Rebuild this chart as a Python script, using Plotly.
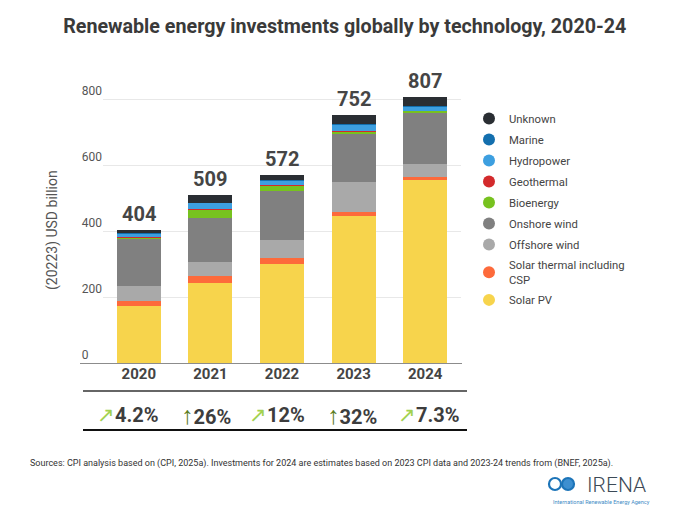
import plotly.graph_objects as go

years = ["2020", "2021", "2022", "2023", "2024"]

# USD billion (bottom to top)
solar_pv = [172, 243, 300, 448, 555]
solar_thermal = [15, 20, 20, 11, 10]
offshore_wind = [48, 45, 55, 91, 38]
onshore_wind = [142, 133, 146, 148, 157]
bioenergy = [5, 24, 17, 4, 6]
geothermal = [1, 1.5, 2, 4, 0.5]
hydropower = [10.5, 20, 14, 18, 14]
marine = [0.5, 0.5, 1, 1, 0.5]
unknown = [10, 22, 17, 27, 26]

totals = [404, 509, 572, 752, 807]
growth = ["4.2%", "26%", "12%", "32%", "7.3%"]
growth_arrow = ["↗", "↑", "↗", "↑", "↗"]
growth_shift = [-11, -4, -5, -2, 4]

series = [
    ("Solar PV", solar_pv, "#f7d44c"),
    ("Solar thermal including<br>CSP", solar_thermal, "#fd6a3b"),
    ("Offshore wind", offshore_wind, "#a9a9a9"),
    ("Onshore wind", onshore_wind, "#808080"),
    ("Bioenergy", bioenergy, "#77c21f"),
    ("Geothermal", geothermal, "#d32a2c"),
    ("Hydropower", hydropower, "#3d9fe0"),
    ("Marine", marine, "#136fae"),
    ("Unknown", unknown, "#2a2e33"),
]

W, H = 680, 519
ml, mr, mt, mb = 103, 219, 70, 156
pw, ph = W - ml - mr, H - mt - mb


def px_x(p):
    return (p - ml) / pw


def px_y(p):
    return (H - mb - p) / ph


fig = go.Figure()
for name, vals, col in series:
    fig.add_trace(go.Bar(x=years, y=vals, name=name, marker_color=col,
                         marker_line_width=0, showlegend=False,
                         hovertemplate=name + ": %{y}<extra></extra>"))

# legend entries with round markers, top to bottom
for name, vals, col in series[::-1]:
    fig.add_trace(go.Scatter(x=[years[0]], y=[None], mode="markers", name=name,
                             legendgroup=name,
                             marker=dict(symbol="circle", size=12, color=col)))

annotations = []
# totals above bars
for i, t in enumerate(totals):
    annotations.append(dict(x=i, xref="x", y=t, yref="y", yanchor="bottom", yshift=2,
                            text="<b>%d</b>" % t, showarrow=False,
                            font=dict(family="Roboto", size=20, color="#454545")))

# year-on-year growth row
for i, yr in enumerate(years):
    if growth_arrow[i] == "↑":
        acol, asz = "#5c7d1f", 25
    else:
        acol, asz = "#a3d24f", 21
    annotations.append(dict(
        x=i, xref="x", y=px_y(415), yref="paper", yanchor="middle",
        xshift=growth_shift[i],
        text="<span style='color:%s;font-size:%dpx;font-weight:300'>%s</span><b>%s</b>"
             % (acol, asz, growth_arrow[i], growth[i]),
        showarrow=False, font=dict(family="Roboto", size=20, color="#3d3d3d")))

annotations += [
    dict(text="(20223) USD billion", x=px_x(52), xref="paper", xanchor="center",
         y=px_y(230), yref="paper", yanchor="middle",
         showarrow=False, textangle=-90, font=dict(family="Roboto", size=14, color="#555555")),
    dict(text="Sources: CPI analysis based on (CPI, 2025a). Investments for 2024 are estimates "
              "based on 2023 CPI data and 2023-24 trends from (BNEF, 2025a).",
         x=px_x(28), xref="paper", xanchor="left", y=px_y(463), yref="paper", yanchor="middle",
         showarrow=False, font=dict(family="Roboto", size=9, color="#333333")),
    dict(text="IRENA", x=px_x(585), xref="paper", xanchor="left", y=px_y(485), yref="paper",
         yanchor="middle", showarrow=False,
         font=dict(family="Roboto", size=21, color="#3c4a56", weight=300)),
    dict(text="International Renewable Energy Agency", x=px_x(652), xref="paper", xanchor="right",
         y=px_y(502), yref="paper", yanchor="middle", showarrow=False,
         font=dict(family="Roboto", size=5.5, color="#3f8cc6")),
]

shapes = [
    dict(type="line", xref="paper", yref="paper", x0=px_x(80), x1=px_x(462),
         y0=px_y(363.5), y1=px_y(363.5), line=dict(color="#8c8c8c", width=1)),
    dict(type="line", xref="paper", yref="paper", x0=px_x(83), x1=px_x(467),
         y0=px_y(391), y1=px_y(391), line=dict(color="#333333", width=1.3)),
    dict(type="line", xref="paper", yref="paper", x0=px_x(83), x1=px_x(467),
         y0=px_y(430), y1=px_y(430), line=dict(color="#111111", width=2)),
    # IRENA globes
    dict(type="circle", xref="paper", yref="paper", x0=px_x(549), x1=px_x(561),
         y0=px_y(478), y1=px_y(490), line=dict(color="#1c74b8", width=2.2),
         fillcolor="rgba(0,0,0,0)"),
    dict(type="circle", xref="paper", yref="paper", x0=px_x(562), x1=px_x(574),
         y0=px_y(478), y1=px_y(490), line=dict(color="#1c74b8", width=2.2),
         fillcolor="#3d8fd0"),
]

fig.update_layout(
    barmode="stack",
    bargap=0.386,
    width=W, height=H,
    margin=dict(l=ml, r=mr, t=mt, b=mb, autoexpand=False),
    paper_bgcolor="white", plot_bgcolor="white",
    font=dict(family="Roboto", color="#444444"),
    title=dict(text="<b>Renewable energy investments globally by technology, 2020-24</b>",
               x=0.507, xanchor="center", y=0.95, yanchor="middle",
               font=dict(family="Roboto", size=19.7, color="#3a3a3a")),
    xaxis=dict(type="category", categoryorder="array", categoryarray=years,
               range=[-0.5, 4.5], showgrid=False, showline=False, ticks="",
               tickfont=dict(family="Roboto", size=15, color="#444444", weight="bold")),
    yaxis=dict(range=[0, 890], tickvals=[0, 200, 400, 600, 800],
               ticktext=["0\u2007\u2007", "200", "400", "600", "800"],
               ticklabelposition="outside top",
               showgrid=True, gridcolor="#e8e8e8", gridwidth=1, zeroline=False,
               ticks="", tickfont=dict(family="Roboto", size=12, color="#555555")),
    legend=dict(x=px_x(469), xanchor="left", y=px_y(104), yanchor="top",
                traceorder="grouped",
                font=dict(family="Roboto", size=11.3, color="#444444"),
                itemwidth=30, tracegroupgap=2, bgcolor="rgba(0,0,0,0)"),
    annotations=annotations,
    shapes=shapes,
)

fig.write_html("out.html", config={"displayModeBar": False},
               post_script="document.body.style.margin='0';")
